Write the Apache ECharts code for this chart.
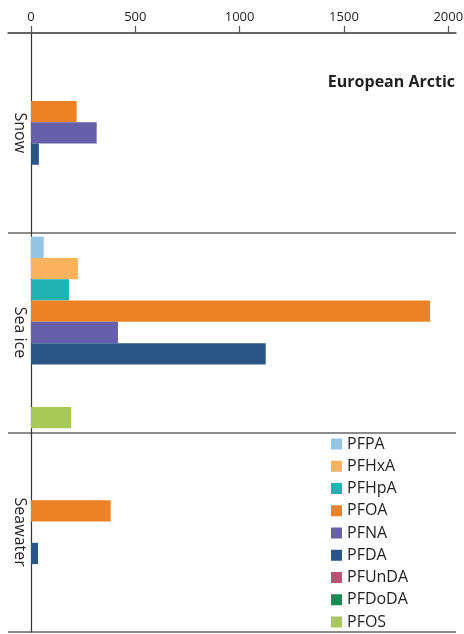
<!DOCTYPE html>
<html>
<head>
<meta charset="utf-8">
<script src="https://cdn.jsdelivr.net/npm/echarts@6/dist/echarts.min.js"></script>
<style>html,body{margin:0;padding:0;background:#fff}#c{width:464px;height:634px}</style>
</head>
<body>
<div id="c"></div>
<script>
var categories = ['Snow', 'Sea ice', 'Seawater'];
var seriesNames = ['PFPA', 'PFHxA', 'PFHpA', 'PFOA', 'PFNA', 'PFDA', 'PFUnDA', 'PFDoDA', 'PFOS'];
var PFPA   = [null, 61, null];
var PFHxA  = [null, 225, null];
var PFHpA  = [null, 182, null];
var PFOA   = [219, 1913, 382];
var PFNA   = [315, 417, null];
var PFDA   = [38, 1125, 34];
var PFUnDA = [null, null, null];
var PFDoDA = [null, null, null];
var PFOS   = [null, 192, null];
var tickValues = [0, 500, 1000, 1500, 2000];
var colors = ['#92c5e3', '#fbb25c', '#1fb3b3', '#ec8126', '#6660ab', '#2a5587', '#b85372', '#1b8a55', '#a9c957'];
var seriesData = [PFPA, PFHxA, PFHpA, PFOA, PFNA, PFDA, PFUnDA, PFDoDA, PFOS];

var font = 'Open Sans';
var chart = echarts.init(document.getElementById('c'), null, {renderer: 'canvas'});
chart.setOption({
  animation: false,
  color: colors,
  textStyle: {fontFamily: font},
  title: {
    text: 'European Arctic', right: 9, top: 74, padding: 0,
    textStyle: {fontFamily: font, fontSize: 16, fontWeight: 'bold', color: '#231f20'}
  },
  legend: {
    orient: 'vertical', left: 331, top: 436, padding: 0, height: 230,
    itemWidth: 11, itemHeight: 11, itemGap: 6.25,
    icon: 'rect',
    textStyle: {fontFamily: font, fontSize: 16, color: '#231f20', lineHeight: 16},
    data: seriesNames
  },
  grid: {left: 8, right: 8, top: 33, bottom: 2, containLabel: false, outerBoundsMode: 'none'},
  xAxis: {
    type: 'value', position: 'top', min: -110, max: 2037,
    splitLine: {show: false},
    axisLine: {show: true, lineStyle: {color: '#555', width: 1.5}},
    axisTick: {show: true, length: 7, customValues: tickValues, lineStyle: {color: '#555', width: 1.2}},
    axisLabel: {customValues: tickValues, margin: 9, fontSize: 13, color: '#231f20', fontFamily: font,
      formatter: function (v) { return String(v); }}
  },
  yAxis: {
    type: 'category', inverse: true, data: categories,
    axisLine: {show: true, onZero: true, lineStyle: {color: '#333', width: 1.2}},
    axisTick: {show: false},
    splitLine: {show: true, lineStyle: {color: '#666', width: 1.5}},
    axisLabel: {rotate: -90, margin: -20, fontSize: 16, color: '#231f20', fontFamily: font}
  },
  series: seriesNames.map(function (n, i) {
    return {
      name: n, type: 'bar', data: seriesData[i],
      barGap: '0%', barCategoryGap: '4%',
      itemStyle: {color: colors[i]}
    };
  })
});
</script>
</body>
</html>
